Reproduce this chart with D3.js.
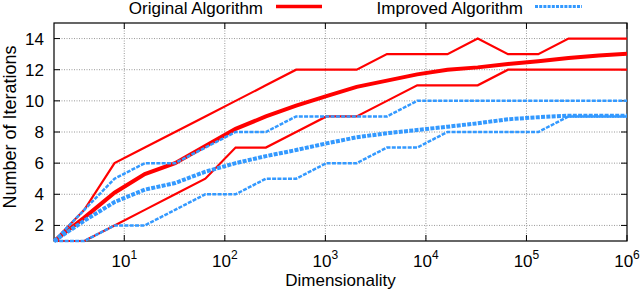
<!DOCTYPE html>
<html><head><meta charset="utf-8">
<script src="https://cdn.jsdelivr.net/npm/d3@7"></script>
<style>
body{margin:0;background:#fff;}
text{font-family:"Liberation Sans",Arial,Helvetica,sans-serif;fill:#000;}
</style></head>
<body><svg id="c" width="640" height="292"></svg>
<script>
const dims = [2,4,8,16,32,64,128,256,512,1024,2048,4096,8192,16384,32768,65536,131072,262144,524288,1048576];
const origMax  = [1,3,6,7,8,9,10,11,12,12,12,13,13,13,14,13,13,14,14,14];
const origMean = [1,2.5,4.1,5.3,6.0,7.1,8.2,9.0,9.7,10.3,10.9,11.3,11.7,12.0,12.15,12.37,12.54,12.75,12.92,13.03];
const origMin  = [1,1,2,3,4,5,7,7,8,9,9,10,11,11,11,12,12,12,12,12];
const impMax   = [1,3,5,6,6,7,8,8,9,9,9,9,10,10,10,10,10,10,10,10];
const impMean  = [1,2.3,3.5,4.3,4.72,5.45,6.0,6.45,6.84,7.27,7.66,7.92,8.13,8.34,8.56,8.82,8.95,9.05,9.05,9.05];
const impMin   = [1,1,2,2,3,4,4,5,5,6,6,7,7,8,8,8,8,9,9,9];
const xTicks = [10,100,1000,10000,100000,1000000];
const xTickExp = ["1","2","3","4","5","6"];
const yTicks = [2,4,6,8,10,12,14];
const legendLabels = ["Original Algorithm","Improved Algorithm"];

const L=54,R=627,T=23,B=241;
const svg=d3.select("#c");
const x=d3.scaleLog().domain([2,1e6]).range([L,R]);
const y=d3.scaleLinear().domain([1,15]).range([B,T]);

// grid
const g=svg.append("g");
g.selectAll("line.gx").data(xTicks.slice(0,-1)).enter().append("line")
 .attr("x1",d=>x(d)).attr("x2",d=>x(d)).attr("y1",T).attr("y2",B)
 .attr("stroke","#999").attr("stroke-width",1).attr("stroke-dasharray","1,1.5");
g.selectAll("line.gy").data(yTicks).enter().append("line")
 .attr("x1",L).attr("x2",R).attr("y1",d=>y(d)).attr("y2",d=>y(d))
 .attr("stroke","#999").attr("stroke-width",1).attr("stroke-dasharray","1,1.5");

// ticks (inside, mirrored)
const tk=svg.append("g").attr("stroke","#000").attr("stroke-width",1);
xTicks.forEach(d=>{
  tk.append("line").attr("x1",x(d)).attr("x2",x(d)).attr("y1",B).attr("y2",B-6);
  tk.append("line").attr("x1",x(d)).attr("x2",x(d)).attr("y1",T).attr("y2",T+6);
});
yTicks.forEach(d=>{
  tk.append("line").attr("x1",L).attr("x2",L+6).attr("y1",y(d)).attr("y2",y(d));
  tk.append("line").attr("x1",R).attr("x2",R-6).attr("y1",y(d)).attr("y2",y(d));
});

// frame
svg.append("rect").attr("x",L).attr("y",T).attr("width",R-L).attr("height",B-T)
 .attr("fill","none").attr("stroke","#000").attr("stroke-width",1.2);

// tick labels
xTicks.forEach((d,i)=>{
  const t=svg.append("text").attr("x",x(d)).attr("y",267).attr("text-anchor","middle").attr("font-size",17);
  t.append("tspan").text("10");
  t.append("tspan").attr("dy",-8).attr("font-size",12).text(xTickExp[i]);
});
svg.selectAll("text.yl").data(yTicks).enter().append("text")
 .attr("x",44).attr("y",d=>y(d)+6).attr("text-anchor","end").attr("font-size",17).text(d=>d);

// axis titles
svg.append("text").attr("x",(L+R)/2).attr("y",286).attr("text-anchor","middle").attr("font-size",17).text("Dimensionality");
svg.append("text").attr("transform","translate(15.5,127) rotate(-90)").attr("text-anchor","middle").attr("font-size",18).text("Number of Iterations");

// clip
svg.append("clipPath").attr("id","cp").append("rect").attr("x",L-5).attr("y",T-5).attr("width",R-L+5).attr("height",B-T+10);

const line=d3.line().x((d,i)=>x(dims[i])).y(d=>y(d));
const RED="#ff0000", BLUE="#3399ff";
const series=[
 {v:origMax,c:RED,w:2.2,dash:null},
 {v:origMin,c:RED,w:2.2,dash:null},
 {v:origMean,c:RED,w:4,dash:null},
 {v:impMax,c:BLUE,w:2.5,dash:"4,1.3"},
 {v:impMin,c:BLUE,w:2.5,dash:"4,1.3"},
 {v:impMean,c:BLUE,w:4,dash:"4,1.3"}
];
const lg=svg.append("g").attr("clip-path","url(#cp)");
series.forEach(s=>{
  lg.append("path").attr("d",line(s.v)).attr("fill","none").attr("stroke",s.c)
   .attr("stroke-width",s.w).attr("stroke-linejoin","miter").attr("stroke-dasharray",s.dash);
});

// legend
svg.append("text").attr("x",263).attr("y",14).attr("text-anchor","end").attr("font-size",17).text(legendLabels[0]);
svg.append("line").attr("x1",276).attr("x2",322).attr("y1",6.5).attr("y2",6.5).attr("stroke",RED).attr("stroke-width",3.5);
svg.append("text").attr("x",523).attr("y",14).attr("text-anchor","end").attr("font-size",17).text(legendLabels[1]);
svg.append("line").attr("x1",535).attr("x2",582).attr("y1",6.5).attr("y2",6.5).attr("stroke",BLUE).attr("stroke-width",3).attr("stroke-dasharray","3,1.2");
</script></body></html>
